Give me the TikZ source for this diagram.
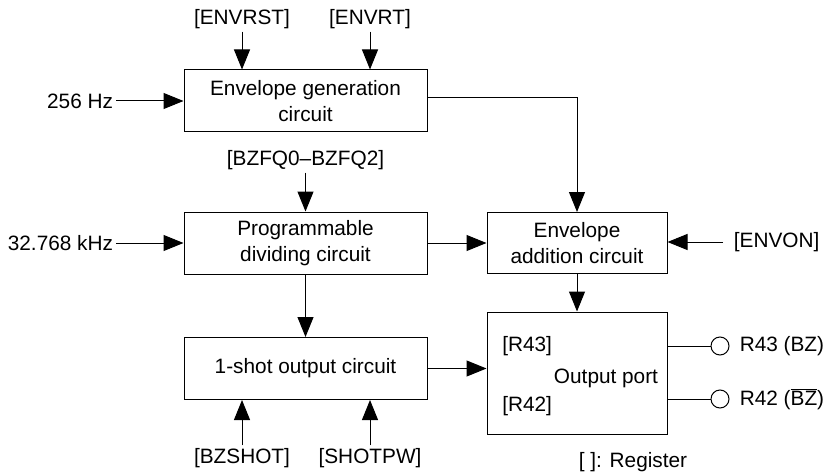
\documentclass[tikz,border=0pt]{standalone}
\usepackage{fontspec}
\setmainfont{Liberation Sans}
\usetikzlibrary{arrows.meta,positioning}
\definecolor{ink}{HTML}{000000}
\tikzset{
  every node/.style={font=\fontsize{15.6}{19.5}\selectfont,text=ink},
  block/.style={draw=ink,line width=.75pt,align=center,inner sep=0pt},
  wideblock/.style={block,minimum width=182.25pt,minimum height=46.5pt},
  sideblock/.style={block,minimum width=135pt,minimum height=45.75pt},
  tag/.style={inner sep=2pt},
  feed/.style={draw=ink,line width=.75pt,-{Triangle[length=15pt,width=12pt]}},
  wire/.style={draw=ink,line width=.75pt},
  pin/.style={circle,draw=ink,line width=.75pt,minimum size=13.5pt,inner sep=0pt}
}

\begin{document}
\begin{tikzpicture}[x=.75pt,y=-.75pt]
  \useasboundingbox (0,0) rectangle (827,474);
  % Circuit blocks.
  \node[wideblock] (gen) at (305.5,101) {Envelope generation\\circuit};
  \node[wideblock] (prog) at (305.5,243) {Programmable\\dividing circuit};
  \node[wideblock] (shot) at (305.5,368.5) {1-shot output circuit};
  \node[sideblock] (add) at (577,243) {Envelope\\addition circuit};
  \node[block,minimum width=135pt,minimum height=91.5pt] (port) at (577,373) {};
  \node[anchor=west,inner sep=0pt] (r43in) at (502,346) {[R43]};
  \node[anchor=west,inner sep=0pt] (r42in) at (502,406) {[R42]};
  \node (porttext) at (606,378) {Output port};

  % Register and clock inputs.
  \node[tag] (envrst) at (242,19) {[ENVRST]};
  \node[tag] (envrt) at (370,19) {[ENVRT]};
  \node[tag] (bzfq) at (305.5,160) {[BZFQ0--BZFQ2]};
  \node[tag] (bzshot) at (242,458) {[BZSHOT]};
  \node[tag] (shotpw) at (370,458) {[SHOTPW]};
  \node[tag,anchor=east] (hz) at (116,101) {256 Hz};
  \node[tag,anchor=east] (khz) at (116,243) {32.768 kHz};
  \node[tag,inner xsep=8pt,anchor=west] (envon) at (723,242) {[ENVON]};
  \node (legend) at (633,462) {[ ]: Register};

  \draw[feed] (envrst.south) -- (envrst.south |- gen.north);
  \draw[feed] (envrt.south) -- (envrt.south |- gen.north);
  \draw[feed] (hz.east) -- (gen.west);
  \draw[feed] (khz.east) -- (prog.west);
  \draw[feed] (bzfq.south) -- (prog.north);
  \draw[feed] (bzshot.north) -- (bzshot.north |- shot.south);
  \draw[feed] (shotpw.north) -- (shotpw.north |- shot.south);
  \draw[feed] (envon.west) -- (envon.west -| add.east);

  % Internal signal paths.
  \draw[feed] ([yshift=2.25pt]gen.east) -| (add.north);
  \draw[feed] (prog.east) -- (add.west);
  \draw[feed] (prog.south) -- (shot.north);
  \draw[feed] (shot.east) -- (shot.east -| port.west);
  \draw[feed] (add.south) -- (port.north);

  % Output pins.
  \node[pin] (pin43) at (720,346) {};
  \node[pin] (pin42) at (720,399) {};
  \draw[wire] (pin43.west -| port.east) -- (pin43.west);
  \draw[wire] (pin42.west -| port.east) -- (pin42.west);
  \node[tag,right=5.5pt of pin43] (r43) {R43 (BZ)};
  \node[tag,right=5.5pt of pin42] (r42) {R42 ($\overline{\mbox{BZ}}$)};
\end{tikzpicture}
\end{document}
